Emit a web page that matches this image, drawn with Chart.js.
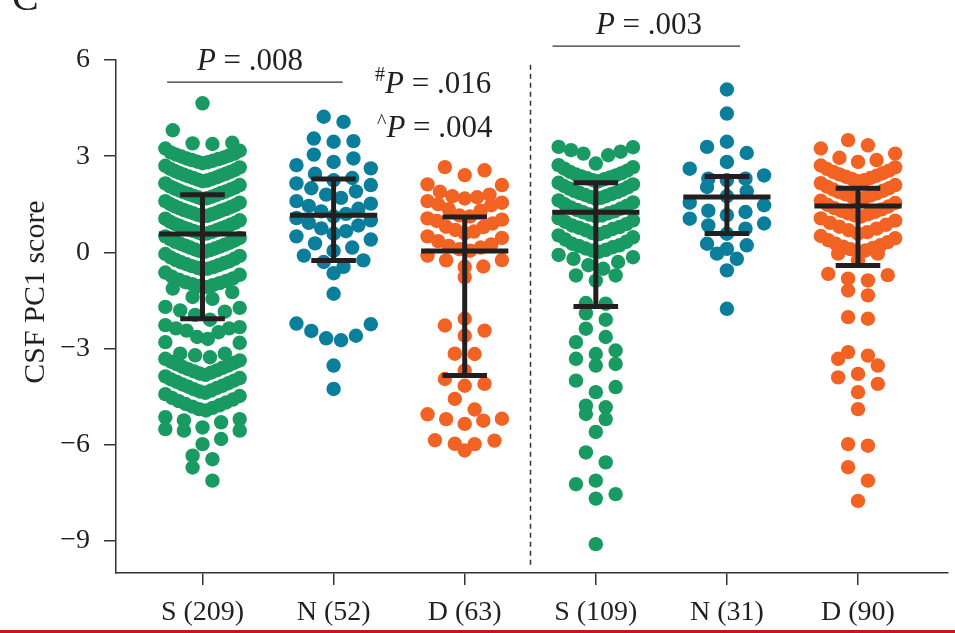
<!DOCTYPE html>
<html><head><meta charset="utf-8">
<style>html,body{margin:0;padding:0;background:#fff;}canvas{display:block;}</style>
<script src="https://cdn.jsdelivr.net/npm/chart.js@4.4.0/dist/chart.umd.min.js"></script>
</head><body>
<canvas id="c" width="955" height="633"></canvas>
<script>
// ---------------- data ----------------
const categories = ['S (209)', 'N (52)', 'D (63)', 'S (109)', 'N (31)', 'D (90)'];
const yTickValues = [-9, -6, -3, 0, 3, 6];
const yAxisTitle = 'CSF PC1 score';
const groupColors = ['#189a62', '#0a7e9a', '#f26323', '#189a62', '#0a7e9a', '#f26323'];

const valuesS209 = [4.65, 3.81, 3.42, 3.40, 3.38,
  2.78,2.81,2.83,2.86,2.88,2.91,2.93,2.96,2.99,3.02,3.05,3.08,3.12,3.17,3.24,
  2.22,2.24,2.27,2.29,2.32,2.34,2.37,2.40,2.42,2.45,2.48,2.51,2.54,2.57,2.61,2.65,2.70,
  1.67,1.69,1.72,1.74,1.77,1.79,1.82,1.85,1.87,1.90,1.93,1.96,1.99,2.02,2.06,2.10,2.15,
  1.12,1.14,1.17,1.19,1.22,1.24,1.27,1.30,1.32,1.35,1.38,1.41,1.44,1.47,1.51,1.55,1.60,
  0.57,0.59,0.62,0.64,0.67,0.69,0.72,0.75,0.77,0.80,0.83,0.86,0.89,0.92,0.96,1.00,1.05,
  0.02,0.04,0.07,0.09,0.12,0.15,0.18,0.21,0.24,0.27,0.30,0.33,0.37,0.41,0.45,0.50,
  -0.53,-0.51,-0.48,-0.46,-0.43,-0.40,-0.37,-0.34,-0.31,-0.28,-0.24,-0.20,-0.16,-0.11,-0.05,
  -1.08,-1.05,-1.02,-0.99,-0.96,-0.93,-0.89,-0.85,-0.81,-0.76,-0.70,-0.63,
  -1.45,-1.39,-1.24,-1.13,
  -2.10,-1.95,-1.85,-1.81,-1.73,-1.70,
  -2.70,-2.64,-2.49,-2.44,-2.37,-2.37,-2.33,-2.27,
  -3.27,-3.21,-3.16,-3.16,-2.82,-2.80,
  -3.82,-3.78,-3.75,-3.71,-3.68,-3.64,-3.60,-3.57,-3.53,-3.49,-3.45,-3.41,-3.37,-3.32,
  -4.38,-4.34,-4.31,-4.27,-4.23,-4.19,-4.16,-4.12,-4.08,-4.04,-4.00,-3.96,-3.92,-3.87,
  -4.93,-4.89,-4.85,-4.81,-4.77,-4.73,-4.68,-4.64,-4.59,-4.54,-4.48,-4.42,
  -5.46,-5.30,-5.24,-5.20,-5.14,
  -5.98,-5.82,-5.56,-5.56,-5.51,
  -6.45,-6.34,
  -7.12,-6.71];

const valuesN52 = [4.07, 4.23, 3.45, 3.47, 3.55, 2.82, 2.93, 3.05,
  2.25, 2.32, 2.45, 2.62, 2.72, 1.70, 1.80, 1.90, 2.00, 2.10, 2.15,
  1.12, 1.20, 1.28, 1.36, 1.45, 1.52, 1.60, 0.58, 0.66, 0.75, 0.84, 0.92, 1.00, 1.07,
  0.05, 0.15, 0.28, 0.40, 0.50, -0.45, -0.30, -0.25, -0.10, -0.65, -1.29,
  -2.74, -2.68, -2.60, -2.45, -2.24, -2.22, -3.53, -4.26];

const valuesD63 = [2.41, 2.56, 2.66, 1.68, 1.72, 1.75, 1.80, 1.89, 2.10, 2.12,
  1.12, 1.15, 1.30, 1.35, 1.47, 1.50, 1.55, 1.60,
  0.60, 0.65, 0.70, 0.79, 0.80, 0.90, 0.98, 1.02, 1.06,
  0.05, 0.10, 0.15, 0.20, 0.25, 0.35, 0.45, 0.50,
  -0.45, -0.44, -0.25, -0.24, -0.10, -0.77, -2.07, -2.60, -2.44, -2.28,
  -3.17, -3.16, -3.69, -4.16, -4.10, -3.95, -4.90, -4.57,
  -5.35, -5.25, -5.20, -5.19, -5.05, -5.98, -5.97, -5.87, -5.86, -6.18];

const valuesS109 = [2.77, 3.03, 3.08, 3.14, 3.19, 3.28, 3.29,
  2.22,2.25,2.28,2.31,2.34,2.37,2.40,2.43,2.47,2.51,2.55,2.61,2.66,2.72,
  1.67,1.70,1.73,1.76,1.79,1.82,1.85,1.88,1.91,1.95,1.99,2.03,2.07,2.12,2.17,
  1.12,1.15,1.18,1.22,1.25,1.28,1.32,1.36,1.40,1.45,1.50,1.56,1.62,
  0.57,0.60,0.64,0.69,0.73,0.77,0.79,0.84,0.88,0.95,1.00,1.06,
  0.02,0.05,0.08,0.12,0.16,0.20,0.22,0.27,0.33,0.40,0.47,0.53,
  -0.51,-0.40,-0.30,-0.20,-0.15,-0.08,
  -0.88,-0.72,-0.72, -1.60,-1.58, -2.10,-1.90, -2.64,-2.38,
  -3.17,-3.06,-2.80, -3.53,-3.48,-3.32, -4.36,-4.20,-4.00,
  -4.83,-4.78, -5.20,-5.04, -5.60, -6.55,-6.24, -7.12,
  -7.68,-7.54,-7.23, -9.10];

const valuesN31 = [5.08, 4.33, 3.45, 2.82, 3.10, 3.29, 2.25, 2.30, 2.30, 2.40, 2.61,
  1.75, 1.90, 2.04, 1.16, 1.26, 1.30, 1.47, 1.55, 0.58, 0.74, 0.84, 0.90, 1.05,
  0.11, 0.22, 0.27, -0.20, -0.04, -0.56, -1.76];

const valuesD90 = [3.34, 3.50, 2.82, 2.88, 2.95, 3.08, 3.24,
  2.22,2.25,2.29,2.32,2.36,2.39,2.43,2.47,2.51,2.55,2.60,2.65,2.71,
  1.67,1.70,1.74,1.77,1.81,1.84,1.88,1.92,1.96,2.00,2.05,2.10,2.16,
  1.12,1.15,1.19,1.22,1.26,1.30,1.34,1.38,1.43,1.48,1.54,1.61,
  0.58,0.63,0.69,0.74,0.80,0.86,0.92,0.99,1.06,
  0.02,0.06,0.10,0.14,0.18,0.22,0.27,0.32,0.38,0.44,0.51,
  -0.25,-0.04,-0.04, -0.875,-0.82,-0.71,-0.67, -1.34,-1.19, -2.07,-2.02,
  -3.22,-3.11, -3.79,-3.53,-3.32, -4.36,-4.10,-3.90, -4.89,
  -6.03,-5.98, -7.12,-6.70, -7.75];

const groupValues = [valuesS209, valuesN52, valuesD63, valuesS109, valuesN31, valuesD90];
const centerValues = [0.57, 1.16, 0.04, 1.25, 1.73, 1.45];
const upperValues  = [1.80, 2.29, 1.10, 2.17, 2.37, 2.00];
const lowerValues  = [-2.07, -0.25, -3.84, -1.69, 0.59, -0.41];

// ---------------- layout constants ----------------
const BIN_H = 0.55, BIN_ORIGIN = 3.85, SWARM_W = 75, MAX_STEP = 20;
const MEAN_HALF_PX = 44, CAP_HALF_PX = 22.5;
const INK = '#231f20';
const SERIF = '"Liberation Serif", "Times New Roman", serif';

function swarmOffsets(values) {
  const bins = {};
  values.forEach((v, i) => {
    const b = Math.floor((v - BIN_ORIGIN) / BIN_H + 1e-9);
    (bins[b] = bins[b] || []).push(i);
  });
  const off = new Array(values.length).fill(0);
  Object.values(bins).forEach(idx => {
    idx.sort((a, b) => values[a] - values[b]);
    const n = idx.length;
    if (n < 2) return;
    const step = Math.min(MAX_STEP, SWARM_W / (n - 1));
    const slots = [];
    for (let k = 0; k < n; k++) slots.push((k - (n - 1) / 2) * step);
    slots.sort((a, b) => (Math.abs(a) - Math.abs(b)) || (b - a));
    idx.forEach((id, j) => off[id] = slots[j]);
  });
  return off;
}

function drawRich(ctx, segs, x, y, align) {
  let w = 0;
  segs.forEach(s => { ctx.font = s.font; s.w = ctx.measureText(s.text).width; w += s.w; });
  let cx = align === 'center' ? x - w / 2 : x;
  ctx.textAlign = 'left';
  ctx.textBaseline = 'alphabetic';
  segs.forEach(s => { ctx.font = s.font; ctx.fillText(s.text, cx, y + (s.dy || 0)); cx += s.w; });
}

const annot = {
  id: 'annot',
  afterDraw(chart) {
    const {ctx, scales: {x, y}} = chart;
    const fR = `31px ${SERIF}`, fI = `italic 31px ${SERIF}`, fS = `20px ${SERIF}`;
    ctx.save();
    ctx.fillStyle = INK;
    ctx.strokeStyle = '#333';
    // dashed separator
    ctx.lineWidth = 1.5;
    ctx.setLineDash([5, 4]);
    ctx.beginPath();
    ctx.moveTo(Math.round(x.getPixelForValue(2.5)) + 0.5, y.getPixelForValue(5.85));
    ctx.lineTo(Math.round(x.getPixelForValue(2.5)) + 0.5, y.getPixelForValue(-9.75));
    ctx.stroke();
    ctx.setLineDash([]);
    // brackets
    ctx.lineWidth = 1.3;
    ctx.beginPath();
    ctx.moveTo(x.getPixelForValue(-0.27), y.getPixelForValue(5.31));
    ctx.lineTo(x.getPixelForValue(1.07), y.getPixelForValue(5.31));
    ctx.moveTo(x.getPixelForValue(2.67), y.getPixelForValue(6.43));
    ctx.lineTo(x.getPixelForValue(4.10), y.getPixelForValue(6.43));
    ctx.stroke();
    drawRich(ctx, [{text: 'P', font: fI}, {text: ' = .008', font: fR}], 250, 70, 'center');
    drawRich(ctx, [{text: 'P', font: fI}, {text: ' = .003', font: fR}], 649, 34, 'center');
    drawRich(ctx, [{text: '#', font: fS, dy: -12}, {text: 'P', font: fI}, {text: ' = .016', font: fR}], 375, 93, 'left');
    drawRich(ctx, [{text: '^', font: fS, dy: -9}, {text: 'P', font: fI}, {text: ' = .004', font: fR}], 377, 137, 'left');
    // y-axis title
    ctx.save();
    ctx.translate(36, 292);
    ctx.rotate(-Math.PI / 2);
    ctx.font = `30px ${SERIF}`;
    ctx.textAlign = 'center';
    ctx.textBaseline = 'middle';
    ctx.fillText(yAxisTitle, 0, 0);
    ctx.restore();
    // panel letter (cropped)
    ctx.font = `40px ${SERIF}`;
    ctx.textAlign = 'left';
    ctx.textBaseline = 'alphabetic';
    ctx.fillText('C', 12, 10);
    // red rule at bottom
    ctx.fillStyle = '#c4161c';
    ctx.fillRect(0, 630, 955, 3);
    ctx.restore();
  }
};

const chart = new Chart(document.getElementById('c'), {
  type: 'scatter',
  data: {datasets: []},
  options: {
    responsive: false, animation: false, devicePixelRatio: 1,
    layout: {padding: {top: 60, right: 0, bottom: 0, left: 0}},
    plugins: {legend: {display: false}, tooltip: {enabled: false}},
    scales: {
      x: {
        type: 'linear', min: -0.66, max: 5.685,
        afterBuildTicks: s => { s.ticks = categories.map((c, i) => ({value: i})); },
        afterFit: s => { s.height = 60; },
        ticks: {callback: v => categories[v], color: INK, padding: 11, font: {family: SERIF, size: 28}, maxRotation: 0, autoSkip: false},
        grid: {display: true, drawOnChartArea: false, drawTicks: true, tickLength: 12, color: '#333', lineWidth: 1.5},
        border: {display: true, color: '#333', width: 1.5}
      },
      y: {
        type: 'linear', min: -10, max: 6,
        afterBuildTicks: s => { s.ticks = yTickValues.map(v => ({value: v})); },
        afterFit: s => { s.width = 116; },
        ticks: {callback: v => v < 0 ? '\u2212' + Math.abs(v) : String(v), color: INK, padding: 14, font: {family: SERIF, size: 28}},
        grid: {display: true, drawOnChartArea: false, drawTicks: true, tickLength: 12, color: '#333', lineWidth: 1.5},
        border: {display: true, color: '#333', width: 1.5}
      }
    }
  },
  plugins: [annot]
});

const xs = chart.scales.x;
const ppu = xs.getPixelForValue(1) - xs.getPixelForValue(0);
const datasets = [];
const meanLine = [], capLine = [], stemLine = [];
centerValues.forEach((m, i) => {
  const mh = MEAN_HALF_PX / ppu, ch = CAP_HALF_PX / ppu;
  meanLine.push({x: i - mh, y: m}, {x: i + mh, y: m}, {x: i, y: null});
  capLine.push({x: i - ch, y: upperValues[i]}, {x: i + ch, y: upperValues[i]}, {x: i, y: null});
  capLine.push({x: i - ch, y: lowerValues[i]}, {x: i + ch, y: lowerValues[i]}, {x: i, y: null});
  stemLine.push({x: i, y: lowerValues[i]}, {x: i, y: upperValues[i]}, {x: i, y: null});
});
[meanLine, capLine, stemLine].forEach(d => datasets.push({
  data: d, showLine: true, spanGaps: false, pointRadius: 0, borderColor: INK,
  borderWidth: 5, borderCapStyle: 'butt', order: 0
}));
groupValues.forEach((vals, i) => {
  const off = swarmOffsets(vals);
  datasets.push({
    data: vals.map((v, j) => ({x: i + off[j] / ppu, y: v})),
    pointRadius: 7.2, pointBackgroundColor: groupColors[i], pointBorderWidth: 0,
    pointHoverRadius: 7.2, order: 1
  });
});
chart.data.datasets = datasets;
chart.update('none');
</script>
</body></html>
